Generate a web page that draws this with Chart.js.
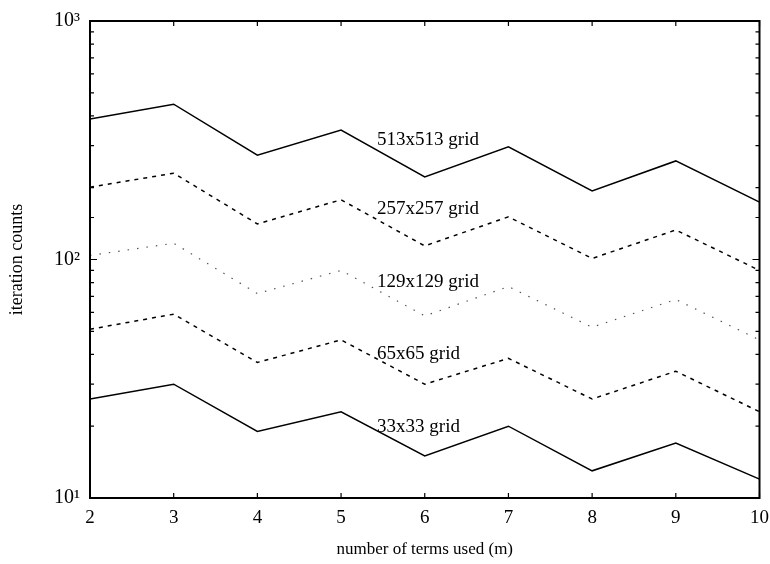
<!DOCTYPE html>
<html>
<head>
<meta charset="utf-8">
<script src="https://cdn.jsdelivr.net/npm/chart.js@4.4.1/dist/chart.umd.min.js"></script>
<style>
    html, body { margin: 0; padding: 0; background: #fff; }
    #wrap { width: 770px; height: 564px; position: relative; }
</style>
</head>
<body>
<div id="wrap"><canvas id="iterChart"></canvas></div>
<script>
/* Iteration counts vs. number of terms used, one curve per grid size */

const termsUsed = [2, 3, 4, 5, 6, 7, 8, 9, 10];
const grid513 = [388, 448, 274, 349, 222, 297, 194, 259, 174];
const grid257 = [201, 230, 141, 178, 114, 151, 101, 133, 90];
const grid129 = [104, 117, 72, 90, 58, 77, 52, 68, 46];
const grid65  = [51, 59, 37, 46, 30, 38.5, 26, 34, 23];
const grid33  = [26, 30, 19, 23, 15, 20, 13, 17, 12];

const gridNames = ['513x513 grid', '257x257 grid', '129x129 grid', '65x65 grid', '33x33 grid'];
const labelCounts = [317, 163, 80.5, 40.2, 19.9];   // iteration count where each name sits
const labelTerm = 5.43;                             // m where the names start

const SERIF = '"Liberation Serif", "Times New Roman", serif';
const sup = { 1: '\u00b9', 2: '\u00b2', 3: '\u00b3' };

// inward tick marks, box frame and the curve names
const frameTicks = {
    id: 'frameTicks',
    afterDatasetsDraw(chart) {
        const { ctx, chartArea: a, scales: { x, y } } = chart;
        ctx.save();
        ctx.strokeStyle = '#000';
        ctx.lineWidth = 1.2;
        ctx.beginPath();
        termsUsed.forEach(t => {
            const px = x.getPixelForValue(t);
            ctx.moveTo(px, a.bottom); ctx.lineTo(px, a.bottom - 5);
            ctx.moveTo(px, a.top);    ctx.lineTo(px, a.top + 5);
        });
        y.ticks.forEach(t => {
            const py = y.getPixelForValue(t.value);
            const len = t.major ? 7 : 4;
            ctx.moveTo(a.left, py);  ctx.lineTo(a.left + len, py);
            ctx.moveTo(a.right, py); ctx.lineTo(a.right - len, py);
        });
        ctx.stroke();

        ctx.lineWidth = 2;
        ctx.strokeRect(a.left, a.top, a.width, a.height);

        ctx.fillStyle = '#000';
        ctx.font = '19px ' + SERIF;
        ctx.textAlign = 'left';
        ctx.textBaseline = 'middle';
        gridNames.forEach((name, i) => {
            ctx.fillText(name, x.getPixelForValue(labelTerm), y.getPixelForValue(labelCounts[i]));
        });
        ctx.restore();
    }
};

const mk = (vals) => vals.map((v, i) => ({ x: termsUsed[i], y: v }));

new Chart(document.getElementById('iterChart'), {
    type: 'line',
    data: {
        datasets: [
            { data: mk(grid513), borderColor: '#000', borderWidth: 1.5 },
            { data: mk(grid257), borderColor: '#000', borderWidth: 1.5, borderDash: [4, 5] },
            { data: mk(grid129), borderColor: '#555', borderWidth: 1.2, borderDash: [1.5, 8] },
            { data: mk(grid65),  borderColor: '#000', borderWidth: 1.5, borderDash: [4, 5] },
            { data: mk(grid33),  borderColor: '#000', borderWidth: 1.5 }
        ]
    },
    options: {
        responsive: true,
        maintainAspectRatio: false,
        animation: false,
        elements: { point: { radius: 0 }, line: { tension: 0 } },
        layout: { padding: { top: 21, right: 10, left: 0, bottom: 0 } },
        plugins: { legend: { display: false }, tooltip: { enabled: false } },
        scales: {
            x: {
                type: 'linear',
                min: 2,
                max: 10,
                ticks: { stepSize: 1, padding: 1, color: '#000', font: { family: SERIF, size: 19 } },
                grid: { display: false },
                border: { display: false },
                title: {
                    display: true,
                    text: 'number of terms used (m)',
                    color: '#000',
                    font: { family: SERIF, size: 17 },
                    padding: { top: 0, bottom: 4 }
                },
                afterFit(scale) { scale.height = 66; }
            },
            y: {
                type: 'logarithmic',
                min: 10,
                max: 1000,
                ticks: {
                    autoSkip: false,
                    padding: 2,
                    color: '#000',
                    font: { family: SERIF, size: 20 },
                    callback: (v) => {
                        const p = Math.log10(v);
                        return Number.isInteger(p) ? '10' + sup[p] : '';
                    }
                },
                grid: { display: false },
                border: { display: false },
                title: {
                    display: true,
                    text: 'iteration counts',
                    color: '#000',
                    font: { family: SERIF, size: 18 },
                    padding: { top: 6, bottom: 0 }
                },
                afterFit(scale) { scale.width = 90; }
            }
        }
    },
    plugins: [frameTicks]
});
</script>
</body>
</html>
